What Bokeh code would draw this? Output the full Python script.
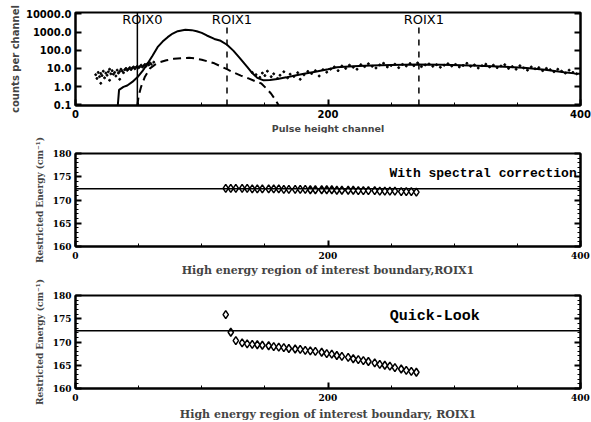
from bokeh.plotting import figure
from bokeh.layouts import column
from bokeh.models import (Range1d, FixedTicker, LinearAxis, Title, Span, Label,
                          NumeralTickFormatter)
from bokeh.embed import file_html
from bokeh.resources import INLINE

# ---------------- data: top panel (pulse height spectrum) ----------------
roix0 = 49
roix1_positions = [120, 272]
roix1_line_top = 2300
roi_label_y = 10000

solid_ch = [33.5, 34.5, 38, 41, 45, 49, 53, 57, 61, 65, 69, 73, 77, 81, 87, 92, 96, 100,
            104, 110, 115, 120, 125, 130, 136, 140, 144, 149, 154, 160, 167, 174, 181,
            190, 200, 207, 220, 234, 250, 270, 290, 313, 335, 355, 372, 387, 395, 400]
solid_counts = [0.09, 0.66, 0.95, 1.14, 1.8, 3.2, 7, 18, 50, 148, 300, 525, 830, 1120,
                1340, 1280, 1120, 900, 650, 420, 330, 200, 95, 38, 12, 5.5, 3.0, 2.2,
                2.3, 2.6, 3.2, 4.0, 5.0, 6.5, 9.0, 11.5, 13.0, 14.5, 15.5, 16.3, 15.8,
                14.5, 12.8, 10.8, 8.5, 6.2, 5.3, 5.0]

dashed_ch = [49, 50, 52, 55, 59, 63, 67, 72, 78, 85, 90, 95, 100, 105, 110, 115, 120,
             125, 131, 137, 142, 147, 151, 155, 158, 161]
dashed_counts = [0.09, 0.3, 1.0, 3.5, 10, 16, 22, 28, 34, 37, 38, 35, 30, 24, 19, 13,
                 9, 6, 4, 2.8, 2.0, 1.5, 0.8, 0.4, 0.2, 0.09]

dots_ch = [16, 17, 18, 19, 20, 20, 21, 22, 23, 24, 25, 26, 27, 27, 28, 29, 30, 31, 32,
           33, 34, 35, 35, 36, 37, 38, 39, 40, 41, 42, 43, 44, 45, 46, 47, 48, 49, 50,
           51, 52, 53, 54, 55, 56, 57, 58, 59, 60, 62,
           140, 143, 146, 148, 150, 152, 155, 157, 160, 162, 165, 168, 170, 173, 176,
           178, 181, 184, 187, 190, 193, 196, 199, 202, 205, 208, 211, 214, 217, 220,
           223, 226, 229, 232, 235, 238, 241, 244, 247, 250, 253, 256, 259, 262, 265,
           268, 271, 274, 277, 280, 283, 286, 289, 292, 295, 298, 301, 304, 307, 310,
           313, 316, 319, 322, 325, 328, 331, 334, 337, 340, 343, 346, 349, 352, 355,
           358, 361, 364, 367, 370, 373, 376, 379, 382, 385, 388, 391, 394, 397]
dots_counts = [4.5, 2.8, 6.0, 3.5, 5.2, 1.5, 4.0, 7.0, 3.0, 5.5, 4.2, 6.5, 2.2, 9.0,
               5.0, 7.5, 4.8, 6.0, 3.8, 8.0, 5.5, 6.8, 2.5, 9.0, 7.2, 5.8, 8.5, 10.0,
               7.8, 9.2, 11.0, 8.6, 10.5, 12.0, 9.5, 11.5, 13.0, 10.8, 12.5, 15.0, 11.8,
               14.0, 16.5, 13.5, 18.0, 15.5, 20.0, 17.0, 22.0,
               6.0, 4.5, 3.2, 5.5, 4.0, 7.0, 3.5, 5.0, 2.8, 4.2, 6.5, 3.0, 4.8, 3.6, 5.8,
               2.5, 4.4, 6.8, 5.2, 7.5, 3.8, 8.5, 6.2, 9.0, 12.0, 7.5, 13.5, 10.0, 15.0,
               11.5, 9.0, 16.0, 12.5, 18.0, 13.0, 10.5, 15.5, 19.0, 12.0, 14.5, 17.0,
               11.0, 16.5, 13.5, 18.5, 14.0, 20.0, 12.5, 15.5, 17.5, 13.0, 16.0, 11.5,
               15.0, 18.0, 13.5, 16.5, 12.0, 14.5, 19.0, 13.0, 15.5, 10.5, 14.0, 17.0,
               12.0, 15.0, 11.0, 13.5, 16.0, 10.0, 12.5, 9.0, 14.0, 10.5, 8.0, 12.0, 9.5,
               11.0, 7.5, 10.0, 8.5, 6.5, 9.0, 7.0, 5.5, 8.0, 6.0, 5.0]

count_ticks = [0.1, 1, 10, 100, 1000, 10000]
channel_ticks = [0, 200, 400]
channel_minor_ticks = [50, 100, 150, 250, 300, 350]

# ---------------- data: lower panels (restricted energy vs ROIX1) ----------------
roix1_ch = [119, 123, 127, 132, 136, 140, 144, 148, 153, 157, 161, 165, 169, 174, 178,
            182, 186, 190, 195, 199, 203, 207, 211, 216, 220, 224, 228, 232, 237, 241,
            245, 249, 253, 258, 262, 266, 270]
energy_corrected = [172.5, 172.5, 172.5, 172.5, 172.5, 172.4, 172.4, 172.4, 172.4, 172.4,
                    172.4, 172.3, 172.3, 172.3, 172.3, 172.3, 172.2, 172.2, 172.2, 172.2,
                    172.2, 172.1, 172.1, 172.1, 172.1, 172.0, 172.0, 172.0, 172.0, 171.9,
                    171.9, 171.9, 171.9, 171.8, 171.8, 171.8, 171.7]
energy_quicklook = [175.9, 172.1, 170.3, 169.8, 169.6, 169.5, 169.4, 169.3, 169.2, 169.0,
                    168.9, 168.8, 168.6, 168.5, 168.4, 168.2, 168.1, 168.0, 167.8, 167.5,
                    167.4, 167.1, 166.9, 166.7, 166.4, 166.2, 166.0, 165.8, 165.5, 165.2,
                    165.0, 164.8, 164.5, 164.2, 163.9, 163.7, 163.5]
reference_energy = 172.4
energy_ticks = [160, 165, 170, 175, 180]
energy_minor_ticks = [161, 162, 163, 164, 166, 167, 168, 169, 171, 172, 173, 174,
                      176, 177, 178, 179]

W = 591
SANS = "DejaVu Sans"
SERIF = "DejaVu Serif"
MONO = "Liberation Mono"


def style_axis(ax, font, size, standoff=5, show_labels=True):
    ax.axis_line_width = 2
    ax.axis_line_color = "black"
    ax.major_tick_in = 6
    ax.major_tick_out = 0
    ax.minor_tick_in = 3
    ax.minor_tick_out = 0
    ax.major_tick_line_width = 2
    ax.minor_tick_line_width = 1
    ax.major_label_text_font = font
    ax.major_label_text_font_size = size
    ax.major_label_text_font_style = "bold"
    ax.major_label_standoff = standoff if show_labels else 0
    ax.major_label_text_color = "black" if show_labels else None


def base_fig(height, y_range, y_type, left, right, top, bottom):
    p = figure(width=W, height=height, x_range=Range1d(0, 400), y_range=y_range,
               y_axis_type=y_type, output_backend="svg", toolbar_location=None,
               min_border_left=left, min_border_right=right, min_border_top=top,
               min_border_bottom=bottom, background_fill_color="white",
               border_fill_color="white")
    p.xgrid.visible = False
    p.ygrid.visible = False
    p.outline_line_color = "black"
    p.outline_line_width = 2
    return p


# ---------------- panel 1 ----------------
p1 = base_fig(133, Range1d(0.09, 12000), "log", 75, 11, 12, 28)
p1.xaxis.ticker = FixedTicker(ticks=channel_ticks, minor_ticks=channel_minor_ticks)
p1.yaxis.ticker = FixedTicker(ticks=count_ticks, minor_ticks=[])
p1.yaxis.formatter = NumeralTickFormatter(format="0.0")
style_axis(p1.xaxis[0], SANS, "10px", standoff=4)
style_axis(p1.yaxis[0], SANS, "10px", standoff=4)
r1 = LinearAxis(ticker=FixedTicker(ticks=count_ticks, minor_ticks=[]))
style_axis(r1, SANS, "10px", show_labels=False)
p1.add_layout(r1, "right")

p1.scatter(dots_ch, dots_counts, size=2, color="black", marker="circle")
p1.line(solid_ch, solid_counts, line_width=2, color="black")
p1.line(dashed_ch, dashed_counts, line_width=2, color="black", line_dash="8 5")
p1.add_layout(Span(location=roix0, dimension="height", line_color="black", line_width=1.5))
p1.segment(x0=roix1_positions, y0=[p1.y_range.start] * len(roix1_positions),
           x1=roix1_positions, y1=[roix1_line_top] * len(roix1_positions),
           line_color="black", line_width=1.5, line_dash="6 6")
for xpos, txt in zip([roix0] + roix1_positions, ["ROIX0", "ROIX1", "ROIX1"]):
    p1.add_layout(Label(x=xpos, y=roi_label_y, text=txt, x_offset=5, y_offset=2,
                        text_align="center", text_baseline="top",
                        text_font=SANS, text_font_size="13px", text_color="black"))
p1.add_layout(Title(text="Pulse height channel", align="center", offset=17, standoff=0,
                    text_font=SANS, text_font_size="9.5px", text_font_style="bold"),
              "below")
p1.add_layout(Title(text="counts per channel", align="center", offset=-8, standoff=4,
                    text_font=SANS, text_font_size="10px", text_font_style="bold"),
              "left")

# ---------------- panels 2 and 3 ----------------
def energy_panel(height, top, bottom, values, xtitle, tick_standoff, title_standoff,
                 ytitle_offset, note, note_x, note_y, note_align, note_size):
    p = base_fig(height, Range1d(160, 180), "linear", 73, 9, top, bottom)
    p.xaxis.ticker = FixedTicker(ticks=channel_ticks, minor_ticks=channel_minor_ticks)
    p.yaxis.ticker = FixedTicker(ticks=energy_ticks, minor_ticks=energy_minor_ticks)
    style_axis(p.xaxis[0], SERIF, "9px", standoff=tick_standoff)
    style_axis(p.yaxis[0], SERIF, "9px", standoff=4)
    ra = LinearAxis(ticker=FixedTicker(ticks=energy_ticks, minor_ticks=energy_minor_ticks))
    style_axis(ra, SERIF, "9px", show_labels=False)
    p.add_layout(ra, "right")
    p.add_layout(Span(location=reference_energy, dimension="width", line_color="black",
                      line_width=1.5))
    p.scatter(roix1_ch, values, marker="diamond", size=8, fill_color="white",
              line_color="black", line_width=1.5)
    p.add_layout(Label(x=note_x, y=note_y, text=note, text_align=note_align,
                       text_baseline="middle", text_font=MONO, text_font_style="bold",
                       text_font_size=note_size, text_color="black"))
    p.add_layout(Title(text=xtitle, align="center", offset=0, standoff=title_standoff,
                       text_font=SERIF, text_font_size="11px", text_font_style="bold"),
                 "below")
    p.add_layout(Title(text="Restricted Energy (cm\u207b\u00b9)", align="center",
                       offset=ytitle_offset, standoff=10, text_font=SERIF,
                       text_font_size="9px", text_font_style="bold"), "left")
    return p


p2 = energy_panel(144, 20, 30, energy_corrected,
                  "High energy region of interest boundary,ROIX1", 5, 1, 3,
                  "With spectral correction", 397, 175.8, "right", "13px")
p3 = energy_panel(145, 18, 34, energy_quicklook,
                  "High energy region of interest boundary, ROIX1", 5, 4, 6,
                  "Quick-Look", 284.5, 175.5, "center", "15px")

layout = column(p1, p2, p3, spacing=0)
open("out.html", "w").write(file_html(layout, INLINE))
